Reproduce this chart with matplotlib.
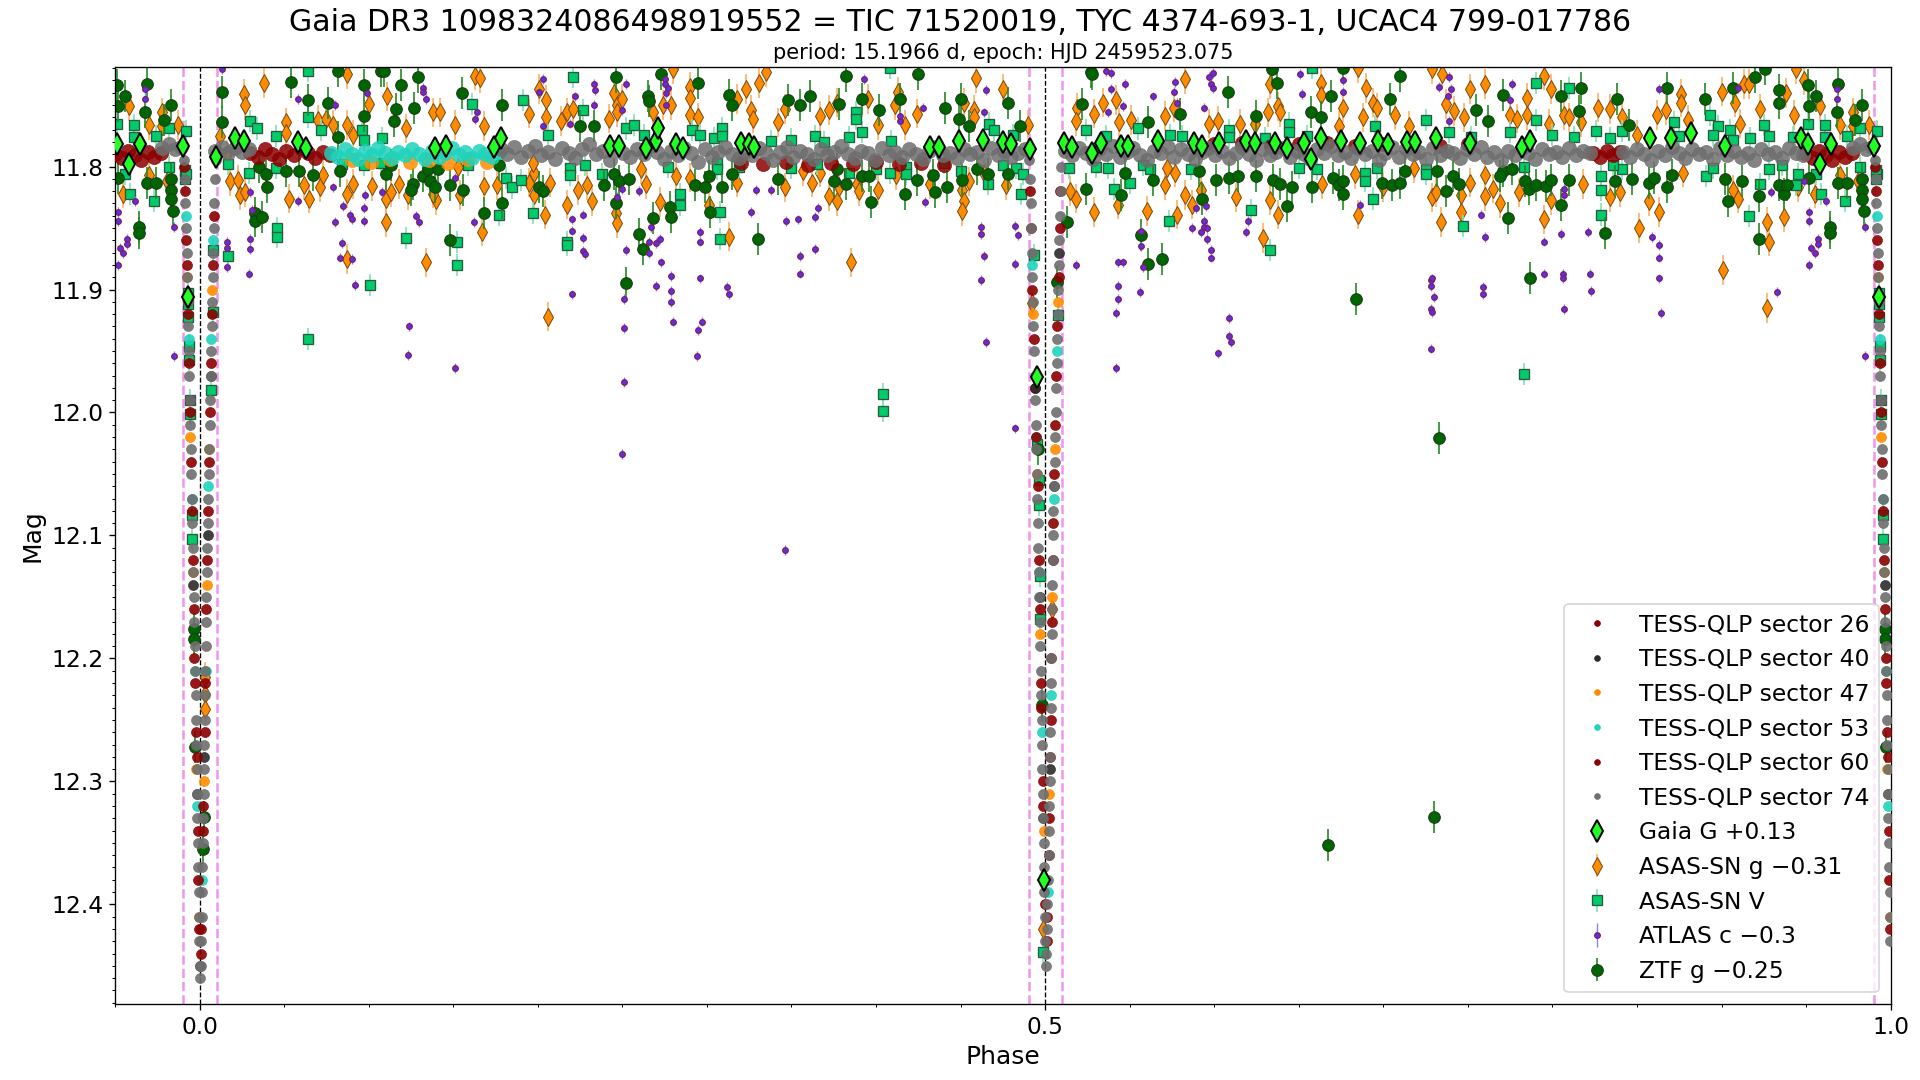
import numpy as np
import matplotlib.pyplot as plt
from matplotlib.ticker import MultipleLocator

# --- data (phase, mag) ---

# TESS-QLP out-of-eclipse bands: (phase start, phase end, mags)
TESS26_BAND = [
    (0.030, 0.077, [11.789, 11.792, 11.786, 11.790, 11.794, 11.787, 11.791, 11.785, 11.789, 11.793, 11.788, 11.791]),
    (0.950, 0.977, [11.790, 11.793, 11.787, 11.791, 11.795, 11.788, 11.792, 11.789]),
]
TESS47_BAND = [
    (0.090, 0.170, [11.795, 11.796, 11.794, 11.796, 11.795, 11.797, 11.794, 11.796]),
]
TESS53_BAND = [
    (0.078, 0.177, [11.789, 11.792, 11.786, 11.790, 11.794, 11.787, 11.791, 11.785, 11.789, 11.793, 11.788, 11.791, 11.786,
                    11.790, 11.794, 11.787, 11.792, 11.789, 11.785, 11.791, 11.788, 11.793, 11.787, 11.790, 11.792, 11.788]),
]
TESS60_BAND = [
    (0.824, 0.840, [11.789, 11.792, 11.787, 11.791, 11.788]),
    (0.320, 0.440, [11.797, 11.798, 11.796, 11.799, 11.797, 11.798, 11.796, 11.798, 11.797, 11.799]),
    (0.600, 0.750, [11.782, 11.781, 11.783, 11.782, 11.781, 11.783, 11.782, 11.781, 11.783, 11.782]),
]
TESS74_BAND = [
    (0.009, 0.029, [11.787, 11.784, 11.789, 11.785, 11.788, 11.786]),
    (0.178, 0.488, [11.786, 11.790, 11.784, 11.792, 11.787, 11.783, 11.791, 11.788, 11.794, 11.785, 11.789, 11.793, 11.786,
                    11.782, 11.790, 11.787, 11.795, 11.784, 11.789, 11.792, 11.786, 11.790, 11.783, 11.788, 11.794, 11.787,
                    11.791, 11.785, 11.789, 11.796, 11.786, 11.792, 11.788, 11.784, 11.790, 11.793, 11.787, 11.791, 11.785,
                    11.789, 11.795, 11.788, 11.784, 11.792, 11.787, 11.790, 11.794, 11.786, 11.791, 11.788, 11.783, 11.790,
                    11.793, 11.787, 11.789, 11.795, 11.785, 11.791, 11.788, 11.792, 11.786, 11.790, 11.794, 11.787, 11.784,
                    11.791, 11.789, 11.793, 11.786, 11.790, 11.788, 11.795, 11.785, 11.791, 11.787, 11.792, 11.789, 11.786]),
    (0.512, 0.822, [11.787, 11.791, 11.785, 11.789, 11.794, 11.786, 11.790, 11.783, 11.792, 11.788, 11.785, 11.791, 11.795,
                    11.787, 11.789, 11.784, 11.792, 11.786, 11.790, 11.794, 11.788, 11.785, 11.791, 11.787, 11.793, 11.789,
                    11.784, 11.790, 11.795, 11.786, 11.791, 11.788, 11.785, 11.792, 11.787, 11.790, 11.794, 11.786, 11.789,
                    11.783, 11.791, 11.788, 11.793, 11.785, 11.790, 11.787, 11.795, 11.789, 11.784, 11.792, 11.786, 11.790,
                    11.788, 11.794, 11.785, 11.791, 11.787, 11.789, 11.793, 11.786, 11.790, 11.784, 11.792, 11.788, 11.795,
                    11.787, 11.791, 11.785, 11.789, 11.794, 11.786, 11.790, 11.788, 11.792, 11.785, 11.791, 11.787, 11.789]),
    (0.842, 0.948, [11.788, 11.792, 11.786, 11.790, 11.795, 11.787, 11.791, 11.784, 11.789, 11.793, 11.786, 11.790, 11.788, 11.794,
                    11.785, 11.791, 11.787, 11.792, 11.789, 11.795, 11.786, 11.790, 11.788, 11.793, 11.785, 11.789, 11.791]),
    (0.978, 0.989, [11.785, 11.782, 11.786, 11.784]),
]

# TESS-QLP points in the eclipses
TESS74_ECL = [
    (-0.0094, 11.795), (-0.0088, 11.81), (-0.0084, 11.83), (-0.0080, 11.85), (-0.0076, 11.87), (-0.0072, 11.89),
    (-0.0069, 11.91), (-0.0066, 11.93), (-0.0063, 11.95), (-0.0061, 11.97), (-0.0058, 11.99), (-0.0056, 12.01),
    (-0.0053, 12.03), (-0.0050, 12.05), (-0.0047, 12.07), (-0.0044, 12.09), (-0.0041, 12.11), (-0.0038, 12.13),
    (-0.0035, 12.15), (-0.0032, 12.17), (-0.0029, 12.19), (-0.0026, 12.21), (-0.0024, 12.23), (-0.0022, 12.25),
    (-0.0020, 12.27), (-0.0018, 12.29), (-0.0016, 12.31), (-0.0013, 12.33), (-0.0010, 12.35), (-0.0008, 12.37),
    (-0.0006, 12.39), (-0.0004, 12.41), (-0.0002, 12.43), (0.0001, 12.45), (0.0004, 12.46),
    (0.0007, 12.45), (0.0009, 12.43), (0.0012, 12.41), (0.0014, 12.39), (0.0016, 12.37), (0.0018, 12.35),
    (0.0021, 12.33), (0.0024, 12.31), (0.0027, 12.29), (0.0029, 12.27), (0.0031, 12.25), (0.0033, 12.23),
    (0.0035, 12.21), (0.0037, 12.19), (0.0039, 12.17), (0.0041, 12.15), (0.0043, 12.13), (0.0045, 12.11),
    (0.0048, 12.09), (0.0051, 12.07), (0.0054, 12.05), (0.0057, 12.03), (0.0060, 12.01), (0.0063, 11.99),
    (0.0066, 11.97), (0.0068, 11.95), (0.0071, 11.93), (0.0074, 11.91), (0.0077, 11.89), (0.0080, 11.87),
    (0.0083, 11.85), (0.0087, 11.83), (0.0091, 11.81), (0.0096, 11.795),
    (0.4906, 11.795), (0.4911, 11.81), (0.4914, 11.83), (0.4918, 11.85), (0.4921, 11.87), (0.4924, 11.89),
    (0.4927, 11.91), (0.4931, 11.93), (0.4935, 11.95), (0.4938, 11.97), (0.4942, 11.99), (0.4945, 12.01),
    (0.4949, 12.03), (0.4952, 12.05), (0.4955, 12.07), (0.4958, 12.09), (0.4961, 12.11), (0.4964, 12.13),
    (0.4966, 12.15), (0.4969, 12.17), (0.4972, 12.19), (0.4974, 12.21), (0.4977, 12.23), (0.4979, 12.25),
    (0.4982, 12.27), (0.4984, 12.29), (0.4987, 12.31), (0.4989, 12.33), (0.4992, 12.35), (0.4994, 12.37),
    (0.4996, 12.39), (0.4998, 12.41), (0.5000, 12.43), (0.5003, 12.45),
    (0.5008, 12.44), (0.5011, 12.42), (0.5014, 12.40), (0.5018, 12.38), (0.5021, 12.36), (0.5023, 12.34),
    (0.5025, 12.32), (0.5027, 12.30), (0.5029, 12.28), (0.5031, 12.26), (0.5033, 12.24), (0.5035, 12.22),
    (0.5036, 12.20), (0.5038, 12.18), (0.5040, 12.16), (0.5042, 12.14), (0.5044, 12.12), (0.5046, 12.10),
    (0.5049, 12.08), (0.5053, 12.06), (0.5056, 12.04), (0.5059, 12.02), (0.5062, 12.00), (0.5065, 11.98),
    (0.5068, 11.96), (0.5071, 11.94), (0.5075, 11.92), (0.5078, 11.90), (0.5081, 11.88), (0.5084, 11.86),
    (0.5088, 11.84), (0.5092, 11.82), (0.5096, 11.80),
]
TESS26_ECL = [
    (-0.0086, 11.82), (-0.0074, 11.88), (-0.0062, 11.96), (-0.0052, 12.04), (-0.0040, 12.12), (-0.0030, 12.20),
    (-0.0021, 12.26), (-0.0012, 12.34), (-0.0003, 12.42), (0.0010, 12.42), (0.0019, 12.34), (0.0030, 12.26),
    (0.0040, 12.16), (0.0050, 12.08), (0.0061, 12.00), (0.0073, 11.92), (0.0085, 11.84),
    (0.4913, 11.82), (0.4925, 11.90), (0.4940, 11.98), (0.4956, 12.06), (0.4968, 12.16), (0.4978, 12.24),
    (0.4988, 12.32), (0.4997, 12.40), (0.5013, 12.41), (0.5024, 12.33), (0.5032, 12.25), (0.5039, 12.17),
    (0.5047, 12.09), (0.5060, 12.01), (0.5073, 11.93), (0.5087, 11.85),
]
TESS60_ECL = [
    (-0.0090, 11.80), (-0.0078, 11.86), (-0.0068, 11.92), (-0.0057, 12.00), (-0.0045, 12.08), (-0.0034, 12.16),
    (-0.0025, 12.22), (-0.0017, 12.28), (-0.0008, 12.38), (0.0008, 12.44), (0.0022, 12.32), (0.0034, 12.22),
    (0.0044, 12.12), (0.0056, 12.04), (0.0067, 11.96), (0.0079, 11.88),
    (0.4918, 11.85), (0.4933, 11.94), (0.4948, 12.02), (0.4962, 12.12), (0.4975, 12.22), (0.4985, 12.30),
    (0.4994, 12.38), (0.5010, 12.43), (0.5021, 12.36), (0.5030, 12.28), (0.5037, 12.20), (0.5044, 12.12),
    (0.5054, 12.05), (0.5067, 11.97), (0.5080, 11.89), (0.5091, 11.82),
]
TESS53_ECL = [
    (-0.0082, 11.84), (-0.0064, 11.94), (-0.0047, 12.07), (-0.0028, 12.21), (-0.0014, 12.32),
    (0.0015, 12.38), (0.0036, 12.21), (0.0052, 12.06), (0.0069, 11.94), (0.0082, 11.86),
    (0.4923, 11.88), (0.4946, 12.02), (0.4964, 12.13), (0.4981, 12.26), (0.5017, 12.39), (0.5034, 12.23),
    (0.5050, 12.07), (0.5070, 11.95),
]
TESS47_ECL = [
    (-0.0072, 11.89), (-0.0055, 12.02), (-0.0039, 12.13), (-0.0019, 12.29), (-0.0005, 12.41),
    (0.0025, 12.30), (0.0042, 12.14), (0.0058, 12.03), (0.0075, 11.90),
    (0.4929, 11.92), (0.4951, 12.05), (0.4971, 12.18), (0.4991, 12.34), (0.5026, 12.31), (0.5041, 12.15),
    (0.5058, 12.03), (0.5076, 11.91),
]
TESS40_ECL = [
    (-0.0059, 11.99), (-0.0036, 12.14), (-0.0016, 12.31), (0.0002, 12.45), (0.0028, 12.28), (0.0047, 12.10),
    (0.0066, 11.97), (0.4940, 11.98), (0.4967, 12.15), (0.4990, 12.33), (0.5028, 12.29), (0.5052, 12.06),
    (0.5083, 11.87),
]

GAIA_G = [
    (0.0095, 11.792), (0.021, 11.777), (0.026, 11.779), (0.058, 11.780), (0.063, 11.785), (0.139, 11.785),
    (0.146, 11.783), (0.174, 11.784), (0.178, 11.777), (0.243, 11.783), (0.248, 11.783), (0.264, 11.785),
    (0.270, 11.779), (0.271, 11.769), (0.282, 11.782), (0.286, 11.785), (0.320, 11.781), (0.325, 11.782),
    (0.328, 11.784), (0.432, 11.784), (0.437, 11.784), (0.449, 11.779), (0.463, 11.778), (0.475, 11.780),
    (0.480, 11.782), (0.491, 11.786), (0.495, 11.971), (0.4992, 12.380), (0.511, 11.781), (0.516, 11.784),
    (0.528, 11.789), (0.533, 11.781), (0.545, 11.783), (0.549, 11.783), (0.567, 11.779), (0.588, 11.781),
    (0.593, 11.783), (0.603, 11.781), (0.619, 11.779), (0.624, 11.781), (0.636, 11.781), (0.643, 11.785),
    (0.653, 11.781), (0.657, 11.794), (0.663, 11.777), (0.675, 11.779), (0.686, 11.781), (0.697, 11.779),
    (0.703, 11.782), (0.714, 11.780), (0.719, 11.780), (0.731, 11.777), (0.751, 11.781), (0.782, 11.784),
    (0.787, 11.779), (0.858, 11.777), (0.870, 11.777), (0.882, 11.773), (0.902, 11.783), (0.947, 11.777),
    (0.951, 11.782), (0.958, 11.798), (0.965, 11.782), (0.990, 11.783), (0.9933, 11.906),
]

ASASSN_G = [
    (0.012, 11.775), (0.016, 11.790), (0.018, 11.812),
    (0.038, 11.732), (0.026, 11.741), (0.027, 11.750), (0.087, 11.725), (0.163, 11.726), (0.166, 11.728),
    (0.201, 11.737), (0.205, 11.746), (0.245, 11.740), (0.247, 11.750), (0.250, 11.745), (0.111, 11.743),
    (0.100, 11.749), (0.195, 11.757), (0.217, 11.756), (0.221, 11.753), (0.242, 11.761), (0.247, 11.756),
    (0.051, 11.764), (0.051, 11.773), (0.070, 11.762), (0.075, 11.761), (0.079, 11.766), (0.087, 11.766),
    (0.091, 11.774), (0.122, 11.769), (0.138, 11.756), (0.142, 11.756), (0.151, 11.766), (0.168, 11.767),
    (0.214, 11.763), (0.205, 11.760), (0.023, 11.811), (0.024, 11.823), (0.027, 11.821), (0.053, 11.826),
    (0.062, 11.815), (0.065, 11.826), (0.071, 11.817), (0.073, 11.807), (0.087, 11.822), (0.091, 11.814),
    (0.102, 11.816), (0.110, 11.826), (0.113, 11.821), (0.118, 11.814), (0.123, 11.823), (0.140, 11.827),
    (0.153, 11.800), (0.154, 11.823), (0.168, 11.816), (0.176, 11.815), (0.195, 11.813), (0.198, 11.823),
    (0.207, 11.813), (0.217, 11.831), (0.224, 11.819), (0.229, 11.815), (0.232, 11.828), (0.246, 11.838),
    (0.247, 11.846), (0.261, 11.802), (0.264, 11.814), (0.204, 11.839), (0.110, 11.845), (0.167, 11.853),
    (0.087, 11.875), (0.134, 11.878), (0.206, 11.922), (0.198, 11.805), (0.197, 11.797), (0.138, 11.822),
    (0.280, 11.721), (0.335, 11.723), (0.290, 11.735), (0.290, 11.744), (0.323, 11.737), (0.331, 11.732),
    (0.279, 11.750), (0.274, 11.750), (0.318, 11.745), (0.326, 11.754), (0.327, 11.761), (0.290, 11.758),
    (0.295, 11.760), (0.268, 11.756), (0.346, 11.753), (0.342, 11.764), (0.372, 11.754), (0.367, 11.759),
    (0.377, 11.748), (0.395, 11.745), (0.401, 11.766), (0.411, 11.750), (0.413, 11.739), (0.417, 11.766),
    (0.424, 11.757), (0.459, 11.728), (0.475, 11.737), (0.458, 11.754), (0.458, 11.760), (0.452, 11.748),
    (0.490, 11.766), (0.272, 11.829), (0.282, 11.808), (0.290, 11.809), (0.301, 11.831), (0.313, 11.857),
    (0.318, 11.813), (0.346, 11.817), (0.357, 11.804), (0.362, 11.813), (0.367, 11.805), (0.372, 11.824),
    (0.377, 11.828), (0.378, 11.817), (0.389, 11.814), (0.390, 11.820), (0.401, 11.819), (0.412, 11.807),
    (0.432, 11.814), (0.451, 11.819), (0.452, 11.828), (0.451, 11.836), (0.455, 11.812), (0.464, 11.805),
    (0.477, 11.815), (0.385, 11.878),
    (0.583, 11.729), (0.534, 11.748), (0.542, 11.746), (0.519, 11.752), (0.518, 11.763), (0.529, 11.757),
    (0.544, 11.764), (0.551, 11.762), (0.571, 11.759), (0.576, 11.752), (0.597, 11.765), (0.602, 11.763),
    (0.615, 11.765), (0.624, 11.765), (0.632, 11.756), (0.638, 11.751), (0.639, 11.756), (0.633, 11.733),
    (0.663, 11.732), (0.663, 11.742), (0.676, 11.752), (0.674, 11.767), (0.690, 11.736), (0.694, 11.748),
    (0.696, 11.752), (0.688, 11.760), (0.707, 11.758), (0.715, 11.767), (0.729, 11.721), (0.735, 11.725),
    (0.737, 11.749), (0.742, 11.755), (0.748, 11.760), (0.751, 11.737), (0.685, 11.720), (0.515, 11.820),
    (0.518, 11.826), (0.529, 11.837), (0.543, 11.831), (0.560, 11.836), (0.571, 11.815), (0.577, 11.805),
    (0.578, 11.839), (0.583, 11.823), (0.587, 11.831), (0.592, 11.819), (0.613, 11.825), (0.629, 11.858),
    (0.633, 11.827), (0.638, 11.839), (0.683, 11.806), (0.685, 11.839), (0.700, 11.817), (0.718, 11.801),
    (0.729, 11.825), (0.731, 11.821), (0.734, 11.845), (0.746, 11.837), (0.746, 11.823), (0.751, 11.813),
    (0.664, 11.814), (0.572, 11.801),
    (0.760, 11.733), (0.795, 11.726), (0.799, 11.737), (0.785, 11.744), (0.775, 11.758), (0.779, 11.761),
    (0.785, 11.758), (0.798, 11.765), (0.807, 11.758), (0.810, 11.760), (0.817, 11.764), (0.827, 11.752),
    (0.834, 11.753), (0.841, 11.760), (0.850, 11.774), (0.862, 11.758), (0.867, 11.754), (0.876, 11.741),
    (0.876, 11.748), (0.880, 11.762), (0.900, 11.739), (0.908, 11.748), (0.911, 11.765), (0.913, 11.733),
    (0.916, 11.733), (0.923, 11.753), (0.938, 11.740), (0.943, 11.758), (0.944, 11.721), (0.949, 11.730),
    (0.958, 11.751), (0.970, 11.766), (0.978, 11.756), (0.987, 11.766), (0.760, 11.807), (0.760, 11.824),
    (0.765, 11.818), (0.769, 11.830), (0.780, 11.821), (0.799, 11.827), (0.795, 11.843), (0.818, 11.814),
    (0.834, 11.825), (0.840, 11.821), (0.851, 11.850), (0.857, 11.828), (0.863, 11.837), (0.877, 11.805),
    (0.907, 11.819), (0.910, 11.826), (0.927, 11.845), (0.928, 11.861), (0.937, 11.841), (0.945, 11.817),
    (0.955, 11.822), (0.970, 11.807), (0.981, 11.812), (0.901, 11.884), (0.927, 11.915), (0.978, 11.767),
    (0.0032, 12.215), (0.0032, 12.229), (0.0033, 12.241), (0.4922, 11.911), (0.4988, 12.420), (0.5041, 12.160),
]

ASASSN_V = [
    (0.064, 11.722), (0.030, 11.763), (0.034, 11.769), (0.045, 11.775), (0.064, 11.760), (0.072, 11.770),
    (0.096, 11.770), (0.097, 11.778), (0.108, 11.777), (0.161, 11.749), (0.191, 11.746), (0.221, 11.727),
    (0.227, 11.754), (0.206, 11.774), (0.252, 11.769), (0.257, 11.766), (0.017, 11.798), (0.029, 11.805),
    (0.045, 11.801), (0.084, 11.798), (0.097, 11.799), (0.107, 11.797), (0.159, 11.799), (0.181, 11.809),
    (0.185, 11.817), (0.190, 11.811), (0.219, 11.801), (0.219, 11.807), (0.228, 11.799), (0.238, 11.806),
    (0.177, 11.839), (0.197, 11.838), (0.046, 11.850), (0.046, 11.857), (0.017, 11.873), (0.122, 11.858),
    (0.152, 11.861), (0.152, 11.880), (0.101, 11.896), (0.217, 11.861), (0.217, 11.864), (0.064, 11.940),
    (-0.0086, 11.803), (-0.0085, 11.810), (-0.0068, 11.903), (-0.0067, 11.912), (-0.0066, 11.922),
    (-0.0064, 11.946), (-0.0063, 11.957), (-0.0059, 11.990), (-0.0058, 12.001), (-0.0044, 12.083),
    (-0.0047, 12.103), (0.0077, 11.868), (0.0077, 11.918), (0.0066, 11.982),
    (0.408, 11.720), (0.263, 11.774), (0.291, 11.770), (0.296, 11.774), (0.304, 11.777), (0.309, 11.769),
    (0.309, 11.775), (0.338, 11.779), (0.350, 11.778), (0.364, 11.775), (0.369, 11.780), (0.384, 11.776),
    (0.388, 11.756), (0.388, 11.761), (0.392, 11.772), (0.409, 11.779), (0.467, 11.765), (0.470, 11.770),
    (0.481, 11.774), (0.277, 11.800), (0.306, 11.797), (0.306, 11.802), (0.319, 11.800), (0.350, 11.801),
    (0.365, 11.798), (0.384, 11.805), (0.400, 11.802), (0.408, 11.805), (0.418, 11.800), (0.418, 11.806),
    (0.440, 11.797), (0.450, 11.804), (0.466, 11.814), (0.475, 11.799), (0.483, 11.801), (0.487, 11.806),
    (0.486, 11.822), (0.284, 11.822), (0.284, 11.831), (0.308, 11.837), (0.308, 11.859), (0.404, 11.985),
    (0.404, 11.999), (0.4933, 11.872), (0.4950, 12.026), (0.4963, 12.055), (0.4963, 12.075), (0.4969, 12.133),
    (0.4970, 12.168), (0.5075, 11.921), (0.4989, 12.439),
    (0.658, 11.720), (0.524, 11.770), (0.536, 11.775), (0.555, 11.769), (0.574, 11.774), (0.581, 11.775),
    (0.609, 11.770), (0.609, 11.776), (0.630, 11.777), (0.644, 11.765), (0.644, 11.772), (0.655, 11.775),
    (0.695, 11.767), (0.725, 11.762), (0.739, 11.772), (0.752, 11.776), (0.514, 11.801), (0.530, 11.800),
    (0.537, 11.801), (0.558, 11.799), (0.562, 11.802), (0.586, 11.802), (0.650, 11.801), (0.661, 11.802),
    (0.689, 11.805), (0.689, 11.812), (0.696, 11.801), (0.725, 11.802), (0.725, 11.806), (0.541, 11.818),
    (0.550, 11.813), (0.694, 11.826), (0.573, 11.844), (0.622, 11.835), (0.633, 11.868), (0.747, 11.848),
    (0.790, 11.732), (0.810, 11.736), (0.775, 11.772), (0.790, 11.762), (0.800, 11.774), (0.813, 11.776),
    (0.826, 11.771), (0.834, 11.777), (0.841, 11.771), (0.872, 11.764), (0.875, 11.775), (0.893, 11.758),
    (0.898, 11.767), (0.895, 11.774), (0.905, 11.770), (0.907, 11.778), (0.917, 11.777), (0.925, 11.766),
    (0.928, 11.775), (0.942, 11.776), (0.951, 11.765), (0.961, 11.766), (0.961, 11.776), (0.974, 11.775),
    (0.982, 11.769), (0.992, 11.771), (0.783, 11.800), (0.829, 11.808), (0.829, 11.819), (0.841, 11.802),
    (0.836, 11.799), (0.891, 11.808), (0.895, 11.801), (0.923, 11.814), (0.928, 11.802), (0.936, 11.799),
    (0.944, 11.815), (0.945, 11.806), (0.956, 11.806), (0.959, 11.822), (0.973, 11.828), (0.982, 11.800),
    (0.992, 11.806), (0.829, 11.839), (0.916, 11.840), (0.783, 11.969),
]

ATLAS_C = [
    (0.013, 11.721), (0.058, 11.745), (0.080, 11.750), (0.099, 11.740), (0.132, 11.736), (0.132, 11.739),
    (0.134, 11.745), (0.164, 11.756), (0.163, 11.761), (0.203, 11.729), (0.201, 11.739), (0.203, 11.767),
    (0.233, 11.733), (0.234, 11.738), (0.252, 11.733), (0.222, 11.743), (0.233, 11.750), (0.250, 11.754),
    (0.219, 11.765), (0.030, 11.821), (0.058, 11.828), (0.079, 11.817), (0.098, 11.823), (0.108, 11.821),
    (0.085, 11.832), (0.097, 11.834), (0.089, 11.839), (0.090, 11.843), (0.080, 11.845), (0.097, 11.844),
    (0.128, 11.840), (0.130, 11.845), (0.162, 11.845), (0.151, 11.809), (0.227, 11.839), (0.220, 11.843),
    (0.220, 11.852), (0.227, 11.858), (0.227, 11.869), (0.228, 11.871), (0.252, 11.868), (0.250, 11.818),
    (0.247, 11.825), (0.016, 11.861), (0.016, 11.866), (0.016, 11.882), (0.030, 11.859), (0.030, 11.867),
    (0.029, 11.887), (0.031, 11.835), (0.084, 11.862), (0.083, 11.874), (0.090, 11.875), (0.092, 11.896),
    (0.124, 11.930), (0.123, 11.953), (0.151, 11.964), (0.220, 11.904), (0.251, 11.908), (0.251, 11.931),
    (0.251, 11.975), (0.250, 12.034), (0.260, 11.820),
    (0.275, 11.729), (0.275, 11.733), (0.277, 11.736), (0.276, 11.740), (0.276, 11.750), (0.393, 11.729),
    (0.428, 11.752), (0.465, 11.738), (0.464, 11.756), (0.414, 11.763), (0.414, 11.759), (0.267, 11.849),
    (0.266, 11.861), (0.270, 11.862), (0.272, 11.859), (0.266, 11.870), (0.273, 11.878), (0.279, 11.889),
    (0.279, 11.901), (0.279, 11.910), (0.280, 11.926), (0.270, 11.897), (0.296, 11.853), (0.296, 11.891),
    (0.297, 11.926), (0.295, 11.933), (0.294, 11.954), (0.312, 11.898), (0.313, 11.904), (0.326, 11.837),
    (0.329, 11.819), (0.338, 11.819), (0.347, 11.844), (0.354, 11.843), (0.364, 11.841), (0.366, 11.834),
    (0.364, 11.867), (0.355, 11.873), (0.355, 11.887), (0.429, 11.829), (0.462, 11.849), (0.462, 11.855),
    (0.464, 11.873), (0.462, 11.892), (0.465, 11.943), (0.482, 11.848), (0.484, 11.856), (0.482, 11.879),
    (0.482, 12.013), (0.296, 11.861), (0.346, 12.112),
    (0.536, 11.722), (0.539, 11.724), (0.547, 11.733), (0.539, 11.737), (0.564, 11.743), (0.577, 11.731),
    (0.576, 11.739), (0.578, 11.748), (0.597, 11.727), (0.599, 11.724), (0.598, 11.733), (0.599, 11.736),
    (0.594, 11.752), (0.651, 11.725), (0.652, 11.741), (0.676, 11.739), (0.676, 11.730), (0.733, 11.735),
    (0.739, 11.727), (0.740, 11.737), (0.738, 11.743), (0.739, 11.763), (0.546, 11.751), (0.537, 11.756),
    (0.518, 11.880), (0.543, 11.878), (0.546, 11.878), (0.543, 11.897), (0.543, 11.908), (0.542, 11.919),
    (0.542, 11.964), (0.556, 11.902), (0.558, 11.882), (0.557, 11.865), (0.557, 11.852), (0.594, 11.844),
    (0.594, 11.849), (0.596, 11.850), (0.592, 11.853), (0.587, 11.850), (0.596, 11.859), (0.595, 11.832),
    (0.598, 11.868), (0.598, 11.874), (0.589, 11.834), (0.609, 11.923), (0.609, 11.938), (0.610, 11.943),
    (0.602, 11.952), (0.620, 11.844), (0.619, 11.853), (0.686, 11.831), (0.728, 11.892), (0.729, 11.891),
    (0.728, 11.897), (0.730, 11.906), (0.728, 11.916), (0.729, 11.918), (0.728, 11.948),
    (0.776, 11.733), (0.775, 11.746), (0.863, 11.737), (0.910, 11.736), (0.968, 11.737), (0.968, 11.745),
    (0.758, 11.839), (0.760, 11.857), (0.759, 11.898), (0.759, 11.904), (0.795, 11.861), (0.795, 11.887),
    (0.805, 11.855), (0.806, 11.887), (0.806, 11.891), (0.807, 11.916), (0.821, 11.853), (0.822, 11.887),
    (0.823, 11.901), (0.859, 11.857), (0.863, 11.864), (0.863, 11.874), (0.863, 11.891), (0.864, 11.919),
    (0.933, 11.902), (0.952, 11.837), (0.952, 11.844), (0.957, 11.859), (0.957, 11.863), (0.953, 11.866),
    (0.955, 11.870), (0.952, 11.880), (0.985, 11.849), (0.985, 11.954), (0.807, 11.818), (0.807, 11.823),
    (0.929, 11.821), (0.962, 11.828), (0.949, 11.812),
]

ZTF_G = [
    (0.013, 11.739), (0.013, 11.764), (0.054, 11.731), (0.082, 11.722), (0.107, 11.722), (0.109, 11.722),
    (0.097, 11.734), (0.119, 11.734), (0.129, 11.727), (0.064, 11.746), (0.076, 11.748), (0.127, 11.752),
    (0.116, 11.753), (0.097, 11.759), (0.115, 11.763), (0.155, 11.740), (0.179, 11.750), (0.246, 11.727),
    (0.265, 11.743), (0.225, 11.767), (0.233, 11.767), (0.082, 11.776), (0.035, 11.800), (0.039, 11.806),
    (0.040, 11.817), (0.059, 11.804), (0.067, 11.807), (0.083, 11.804), (0.110, 11.806), (0.113, 11.799),
    (0.132, 11.808), (0.135, 11.802), (0.141, 11.802), (0.136, 11.812), (0.139, 11.817), (0.126, 11.814),
    (0.125, 11.819), (0.148, 11.815), (0.156, 11.819), (0.177, 11.799), (0.179, 11.830), (0.168, 11.838),
    (0.201, 11.817), (0.203, 11.820), (0.239, 11.815), (0.245, 11.806), (0.248, 11.812), (0.254, 11.810),
    (0.246, 11.830), (0.260, 11.855), (0.262, 11.867), (0.252, 11.895), (0.033, 11.838), (0.033, 11.844),
    (0.037, 11.841), (0.148, 11.860), (0.051, 11.804),
    (0.273, 11.725), (0.295, 11.732), (0.266, 11.747), (0.313, 11.742), (0.315, 11.750), (0.348, 11.746),
    (0.355, 11.750), (0.361, 11.743), (0.378, 11.749), (0.382, 11.726), (0.392, 11.745), (0.402, 11.754),
    (0.414, 11.745), (0.425, 11.725), (0.441, 11.752), (0.450, 11.745), (0.449, 11.761), (0.455, 11.767),
    (0.478, 11.748), (0.485, 11.767), (0.293, 11.815), (0.299, 11.817), (0.309, 11.817), (0.301, 11.808),
    (0.315, 11.806), (0.342, 11.810), (0.375, 11.812), (0.382, 11.814), (0.377, 11.802), (0.392, 11.808),
    (0.396, 11.808), (0.417, 11.822), (0.424, 11.811), (0.434, 11.807), (0.435, 11.821), (0.442, 11.817),
    (0.451, 11.811), (0.460, 11.802), (0.466, 11.806), (0.478, 11.806), (0.397, 11.829), (0.278, 11.833),
    (0.279, 11.841), (0.268, 11.842), (0.302, 11.837), (0.330, 11.859),
    (0.4960, 12.030), (0.4982, 12.238), (0.5070, 11.894),
    (-0.0031, 12.176), (-0.0031, 12.184), (-0.0025, 12.272), (0.0026, 12.329), (0.0018, 12.355),
    (0.527, 11.723), (0.528, 11.725), (0.522, 11.749), (0.561, 11.764), (0.580, 11.757), (0.608, 11.739),
    (0.625, 11.759), (0.634, 11.721), (0.637, 11.732), (0.657, 11.756), (0.663, 11.760), (0.669, 11.743),
    (0.676, 11.720), (0.704, 11.745), (0.710, 11.726), (0.755, 11.754), (0.547, 11.805), (0.564, 11.811),
    (0.591, 11.804), (0.601, 11.811), (0.609, 11.809), (0.614, 11.808), (0.625, 11.808), (0.635, 11.811),
    (0.639, 11.814), (0.646, 11.817), (0.658, 11.817), (0.670, 11.809), (0.674, 11.815), (0.676, 11.822),
    (0.676, 11.812), (0.699, 11.813), (0.705, 11.815), (0.710, 11.813), (0.732, 11.804), (0.737, 11.820),
    (0.741, 11.808), (0.745, 11.814), (0.524, 11.818), (0.545, 11.823), (0.593, 11.826), (0.643, 11.832),
    (0.513, 11.845), (0.557, 11.856), (0.561, 11.879), (0.569, 11.875), (0.684, 11.908), (0.733, 12.021),
    (0.713, 11.804), (0.667, 12.352), (0.730, 12.329),
    (0.771, 11.742), (0.762, 11.763), (0.805, 11.743), (0.817, 11.736), (0.816, 11.755), (0.838, 11.745),
    (0.845, 11.766), (0.868, 11.736), (0.890, 11.745), (0.907, 11.736), (0.920, 11.727), (0.926, 11.721),
    (0.934, 11.738), (0.934, 11.748), (0.951, 11.734), (0.956, 11.743), (0.952, 11.751), (0.969, 11.733),
    (0.968, 11.756), (0.979, 11.762), (0.983, 11.750), (0.771, 11.804), (0.769, 11.808), (0.776, 11.802),
    (0.784, 11.812), (0.786, 11.818), (0.790, 11.815), (0.796, 11.816), (0.799, 11.811), (0.810, 11.811),
    (0.805, 11.831), (0.774, 11.842), (0.787, 11.891), (0.831, 11.854), (0.837, 11.812), (0.847, 11.810),
    (0.857, 11.813), (0.860, 11.809), (0.868, 11.817), (0.871, 11.807), (0.902, 11.810), (0.904, 11.828),
    (0.912, 11.812), (0.922, 11.824), (0.937, 11.822), (0.934, 11.815), (0.939, 11.815), (0.922, 11.859),
    (0.964, 11.849), (0.964, 11.854), (0.969, 11.813), (0.974, 11.813), (0.983, 11.810), (0.983, 11.819),
    (0.983, 11.826), (0.984, 11.836), (0.952, 11.809),
]

# typical photometric errors
ERR_ASASSN_G = 0.012
ERR_ASASSN_V = 0.009
ERR_ATLAS = 0.004
ERR_ZTF = 0.013

ECLIPSE_CENTRES = [0.0, 0.5]
ECLIPSE_EDGES = [-0.0097, 0.0101, 0.4907, 0.5101, 0.9903]

TITLE = "Gaia DR3 1098324086498919552 = TIC 71520019, TYC 4374-693-1, UCAC4 799-017786"
SUBTITLE = "period: 15.1966 d, epoch: HJD 2459523.075"


def band_points(segments):
    ph, mg = [], []
    for start, end, mags in segments:
        ph.extend(np.linspace(start, end, len(mags)))
        mg.extend(mags)
    return ph, mg


def pairs(points):
    arr = np.array(points, dtype=float)
    return arr[:, 0], arr[:, 1]


def wrap(ph, mag):
    # show phase 0.95..1 again left of 0, and the negative phases again right of 1
    ph = np.asarray(ph, dtype=float)
    mag = np.asarray(mag, dtype=float)
    hi = ph >= 0.95
    lo = ph < 0.0
    return np.concatenate([ph, ph[hi] - 1, ph[lo] + 1]), np.concatenate([mag, mag[hi], mag[lo]])


fig = plt.figure(figsize=(16, 9), dpi=120)
ax = fig.add_axes([0.0599, 0.0704, 0.9248, 0.8676])

handles = {}

# other surveys (under TESS)
ph, mg = wrap(*pairs(ASASSN_G))
handles["g"] = ax.errorbar(ph, mg, yerr=ERR_ASASSN_G, fmt="d", ms=7.5, mfc="#ff8c00", mec="#7a4a10", mew=0.6,
                           ecolor="#ffb060", elinewidth=1.0, capsize=0, zorder=2.0, label="ASAS-SN g \u22120.31")
ph, mg = wrap(*pairs(ASASSN_V))
handles["V"] = ax.errorbar(ph, mg, yerr=ERR_ASASSN_V, fmt="s", ms=6, mfc="#00cc6a", mec="#2a5a40", mew=0.8,
                           ecolor="#7fe3b5", elinewidth=1.0, capsize=0, zorder=2.1, label="ASAS-SN V")
ph, mg = wrap(*pairs(ZTF_G))
handles["ztf"] = ax.errorbar(ph, mg, yerr=ERR_ZTF, fmt="o", ms=7, mfc="#006400", mec="#1a3a1a", mew=0.6,
                             ecolor="#228b22", elinewidth=1.0, capsize=0, zorder=2.2, label="ZTF g \u22120.25")
ph, mg = wrap(*pairs(ATLAS_C))
handles["atlas"] = ax.errorbar(ph, mg, yerr=ERR_ATLAS, fmt="o", ms=3.4, mfc="#5533ee", mec="#8b1a4a", mew=0.7,
                               ecolor="#8080ff", elinewidth=0.8, capsize=0, zorder=2.3, label="ATLAS c \u22120.3")

# TESS-QLP sectors: dense out-of-eclipse bands and the eclipse branches
tess_sets = [
    ("26", TESS26_BAND, TESS26_ECL, "#8b0000"),
    ("40", None, TESS40_ECL, "#2b2b2b"),
    ("47", TESS47_BAND, TESS47_ECL, "#ff8c00"),
    ("53", TESS53_BAND, TESS53_ECL, "#1fd3bc"),
    ("60", TESS60_BAND, TESS60_ECL, "#8b0000"),
    ("74", TESS74_BAND, TESS74_ECL, "#6e6e6e"),
]
for i, (sec, band, ecl, col) in enumerate(tess_sets):
    z = 3 + 0.01 * i
    if band:
        ph, mg = wrap(*band_points(band))
        ax.plot(ph, mg, "o", ms=8.5, color=col, mec=col, mew=0.4, alpha=0.85, zorder=z)
    ph, mg = wrap(*pairs(ecl))
    (ln,) = ax.plot(ph, mg, "o", ms=6, color=col, mec=col, mew=0.4, alpha=0.9, zorder=z,
                    label=f"TESS-QLP sector {sec}")
    handles["t" + sec] = ln

ph, mg = wrap(*pairs(GAIA_G))
(handles["gaia"],) = ax.plot(ph, mg, "d", ms=9, mfc="#22ff22", mec="black", mew=1.2, zorder=4, label="Gaia G +0.13")

# eclipse markers
for x in ECLIPSE_CENTRES:
    ax.axvline(x, color="black", ls="--", lw=0.8, zorder=1.5)
for x in ECLIPSE_EDGES:
    ax.axvline(x, color="violet", ls="--", lw=1.5, alpha=0.85, zorder=1.5)

ax.set_xlim(-0.05, 1.0)
ax.set_ylim(12.481, 11.719)
ax.xaxis.set_major_locator(MultipleLocator(0.5))
ax.xaxis.set_minor_locator(MultipleLocator(0.05))
ax.yaxis.set_major_locator(MultipleLocator(0.1))
ax.yaxis.set_minor_locator(MultipleLocator(0.01))
ax.tick_params(labelsize=14)
ax.set_xlabel("Phase", fontsize=15)
ax.set_ylabel("Mag", fontsize=15)

fig.suptitle(TITLE, fontsize=18, y=0.993)
ax.set_title(SUBTITLE, fontsize=12.5, pad=5)

order = ["t26", "t40", "t47", "t53", "t60", "t74", "gaia", "g", "V", "atlas", "ztf"]
leg = ax.legend([handles[k] for k in order], [handles[k].get_label() for k in order],
                loc="lower right", fontsize=14)
for h in leg.legend_handles[:6]:
    h.set_markersize(3.5)
    h.set_alpha(1)

fig.savefig("out.png", dpi=120)
